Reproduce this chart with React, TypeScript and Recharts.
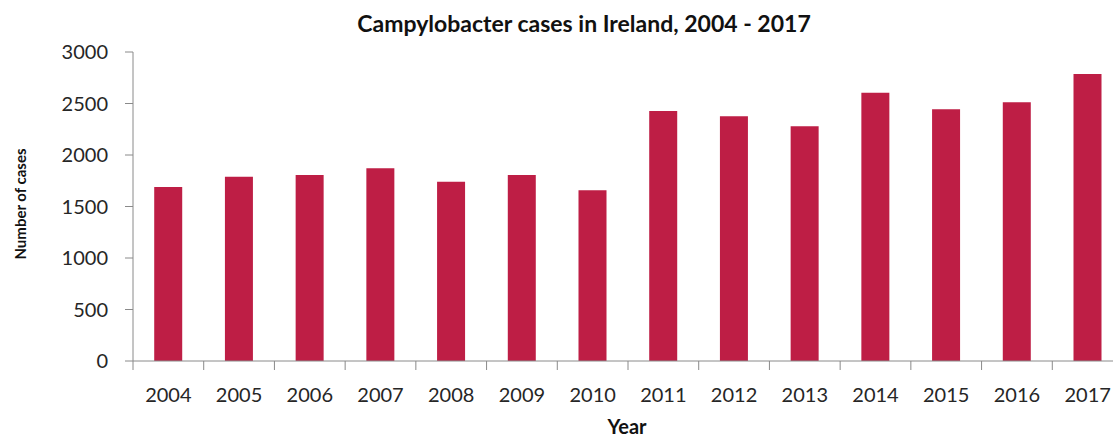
import React from 'react';
import { BarChart, Bar, XAxis, YAxis } from 'recharts';

const years = ['2004', '2005', '2006', '2007', '2008', '2009', '2010', '2011', '2012', '2013', '2014', '2015', '2016', '2017'];
const cases = [1689, 1789, 1806, 1871, 1741, 1806, 1657, 2427, 2376, 2279, 2605, 2444, 2512, 2786];
const yTicks = [0, 500, 1000, 1500, 2000, 2500, 3000];

const data = years.map((year, i) => ({ year, cases: cases[i] }));

const AXIS = '#8a8a8a';
const TEXT = '#262626';
const BAR = '#be1e45';
const FONT = 'Lato, "Open Sans", sans-serif';

// ticks sit between the categories, label in the middle
const YearTick = (props: any) => {
  const { x, y, payload, index } = props;
  const half = payload && payload.offset ? payload.offset : 35.36;
  return (
    <g>
      <line x1={x - half} x2={x - half} y1={y} y2={y + 9} stroke={AXIS} />
      {index === years.length - 1 && (
        <line x1={x + half} x2={x + half} y1={y} y2={y + 9} stroke={AXIS} />
      )}
      <text x={x} y={y + 41} textAnchor="middle" fill={TEXT} fontSize={20} fontFamily={FONT}>
        {payload.value}
      </text>
    </g>
  );
};

export default function App() {
  return (
    <div style={{ position: 'absolute', left: 0, top: 0, width: 1113, height: 439, overflow: 'hidden', background: '#fff', fontFamily: FONT, lineHeight: 1 }}>
      <BarChart
        width={1130}
        height={439}
        data={data}
        margin={{ top: 52, right: 7, left: 73, bottom: 48 }}
        barCategoryGap="30%"
      >
        <XAxis
          dataKey="year"
          height={30}
          tickLine={false}
          tickSize={0}
          tickMargin={0}
          axisLine={{ stroke: AXIS }}
          tick={<YearTick />}
          interval={0}
        />
        <YAxis
          width={60}
          domain={[0, 3000]}
          ticks={yTicks}
          tickSize={8}
          tickMargin={17}
          tickLine={{ stroke: AXIS }}
          axisLine={{ stroke: AXIS }}
          tick={{ fill: TEXT, fontSize: 20, fontFamily: FONT }}
        />
        <Bar dataKey="cases" fill={BAR} isAnimationActive={false} />
      </BarChart>
      <div style={{ position: 'absolute', left: 584, top: 23, transform: 'translate(-50%, -50%)', fontWeight: 700, fontSize: 23, color: '#111', whiteSpace: 'nowrap' }}>
        Campylobacter cases in Ireland, 2004 - 2017
      </div>
      <div style={{ position: 'absolute', left: 20, top: 204, transform: 'translate(-50%, -50%) rotate(-90deg)', fontWeight: 700, fontSize: 15, color: '#111', whiteSpace: 'nowrap' }}>
        Number of cases
      </div>
      <div style={{ position: 'absolute', left: 627, top: 426, transform: 'translate(-50%, -50%)', fontWeight: 700, fontSize: 20, color: '#111', whiteSpace: 'nowrap' }}>
        Year
      </div>
    </div>
  );
}
